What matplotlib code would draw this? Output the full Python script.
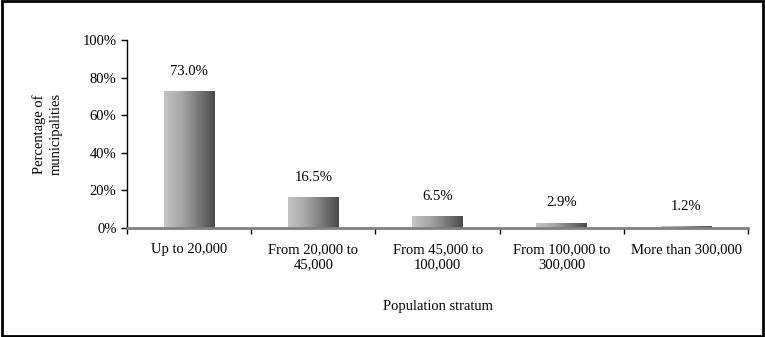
import matplotlib
matplotlib.use("Agg")
import matplotlib.pyplot as plt
import numpy as np
from matplotlib.colors import LinearSegmentedColormap
from matplotlib.patches import Rectangle

categories = ["Up to 20,000", "From 20,000 to\n45,000", "From 45,000 to\n100,000",
              "From 100,000 to\n300,000", "More than 300,000"]
shares = [73.0, 16.5, 6.5, 2.9, 1.2]
value_labels = ["73.0%", "16.5%", "6.5%", "2.9%", "1.2%"]
yticks = [0, 20, 40, 60, 80, 100]

plt.rcParams["font.family"] = ["Liberation Serif", "DejaVu Serif"]
fs = 10.5

fig = plt.figure(figsize=(7.65, 3.37), dpi=100)
ax = fig.add_axes([0.166, 0.3234, 0.812, 0.5576])

cmap = LinearSegmentedColormap.from_list("bar", ["#c4c4c4", "#a8a8a8", "#7a7a7a", "#4a4a4a"])
grad = np.linspace(0, 1, 256).reshape(1, -1)
width = 0.41
x = np.arange(len(categories))
bars = ax.bar(x, shares, width=width, color="none", edgecolor="none")
for b in bars:
    x0, y0 = b.get_x(), b.get_y()
    w, h = b.get_width(), b.get_height()
    im = ax.imshow(grad, cmap=cmap, aspect="auto", extent=[x0, x0 + w, y0, y0 + h],
                   zorder=2, interpolation="bicubic")
    clip = Rectangle((x0, y0), w, h, transform=ax.transData)
    im.set_clip_path(clip)

for xi, v, lab in zip(x, shares, value_labels):
    ax.text(xi, v + 7, lab, ha="center", va="bottom", fontsize=fs)

ax.set_xlim(-0.5, len(categories) - 0.5)
ax.set_ylim(0, 100)
ax.set_yticks(yticks)
ax.set_yticklabels([f"{t}%" for t in yticks], fontsize=fs)
ax.set_xticks(x)
ax.set_xticklabels(categories, fontsize=fs)
ax.tick_params(axis="x", length=0, pad=11)
ax.set_xticks(np.arange(-0.5, len(categories)), minor=True)
ax.tick_params(axis="x", which="minor", length=4, direction="out", color="black", width=1)
ax.tick_params(axis="y", length=4, direction="out", width=1)

for s in ["top", "right"]:
    ax.spines[s].set_visible(False)
ax.spines["bottom"].set_color("#808080")
ax.spines["bottom"].set_linewidth(2)
ax.spines["left"].set_linewidth(1)

ax.set_ylabel("Percentage of\nmunicipalities", fontsize=fs, labelpad=14, linespacing=1.45)
ax.set_xlabel("Population stratum", fontsize=fs, labelpad=21)

fig.patches.append(Rectangle((0.002, 0.003), 0.996, 0.994, transform=fig.transFigure,
                             fill=False, edgecolor="black", linewidth=2))

fig.savefig("out.png", dpi=100)
